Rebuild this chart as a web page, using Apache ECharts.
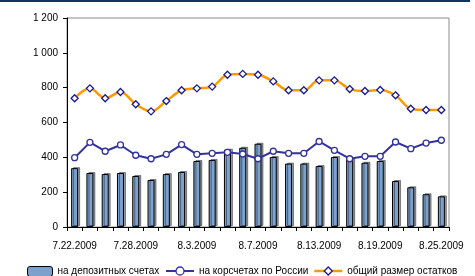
<!DOCTYPE html>
<html>
<head>
<meta charset="utf-8">
<script src="https://cdn.jsdelivr.net/npm/echarts@6/dist/echarts.min.js"></script>
<style>
  html, body { margin: 0; padding: 0; background: #fff; }
  #chart { width: 475px; height: 276px; }
</style>
</head>
<body>
<div id="chart"></div>
<script>
// даты (рабочие дни)
const dates = [
  '7.22.2009', '7.23.2009', '7.24.2009', '7.27.2009', '7.28.2009',
  '7.29.2009', '7.30.2009', '7.31.2009', '8.3.2009', '8.4.2009',
  '8.5.2009', '8.6.2009', '8.7.2009', '8.10.2009', '8.11.2009',
  '8.12.2009', '8.13.2009', '8.14.2009', '8.17.2009', '8.18.2009',
  '8.19.2009', '8.20.2009', '8.21.2009', '8.24.2009', '8.25.2009'
];

// на депозитных счетах
const deposits = [
  338, 310, 304, 310, 293, 270, 304, 316, 379, 385,
  444, 455, 478, 402, 364, 364, 350, 402, 389, 369,
  379, 264, 228, 188, 176
];

// на корсчетах по России
const corrAccounts = [
  398, 486, 435, 471, 412, 392, 417, 473, 417, 423,
  429, 419, 392, 435, 423, 423, 491, 440, 392, 406,
  406, 488, 450, 482, 498
];

// общий размер остатков
const totalBalance = [
  739, 796, 739, 775, 705, 664, 723, 785, 796, 806,
  874, 879, 874, 836, 785, 785, 842, 842, 792, 781,
  787, 756, 679, 672, 672
];

const FONT = "'Liberation Sans', Arial, sans-serif";
const legendText = { fontFamily: FONT, fontSize: 10, color: '#000' };

const chart = echarts.init(document.getElementById('chart'));

chart.setOption({
  animation: false,
  textStyle: { fontFamily: FONT },
  graphic: [
    { type: 'rect', shape: { x: 0, y: 0, width: 470, height: 2 }, style: { fill: '#0b3566' } }
  ],
  grid: {
    left: 67, right: 26, top: 18, bottom: 49,
    show: true, borderColor: '#8c8c8c', borderWidth: 1, backgroundColor: 'transparent'
  },
  legend: [
    {
      left: 22, top: 261, itemWidth: 25, itemHeight: 10, itemGap: 4, textStyle: legendText,
      data: [{
        name: 'на депозитных счетах',
        itemStyle: { color: '#7ca1cc', borderColor: '#000', borderWidth: 1, shadowBlur: 0, shadowOffsetX: 0, shadowOffsetY: 0 }
      }]
    },
    {
      left: 160, top: 261, itemWidth: 28, itemHeight: 10, textStyle: legendText,
      data: [{
        name: 'на корсчетах по России',
        lineStyle: { color: '#333399', width: 2 },
        itemStyle: { color: '#fff', borderColor: '#333399', borderWidth: 1.3 }
      }]
    },
    {
      left: 308, top: 261, itemWidth: 28, itemHeight: 10, textStyle: legendText,
      data: [{
        name: 'общий размер остатков',
        lineStyle: { color: '#ff9900', width: 2.5 },
        itemStyle: { color: '#fff', borderColor: '#1a1a8c', borderWidth: 1.3 }
      }]
    }
  ],
  xAxis: {
    type: 'category',
    data: dates,
    boundaryGap: true,
    axisLine: { lineStyle: { color: '#000', width: 1 } },
    axisTick: { show: true, interval: 0, length: 4, lineStyle: { color: '#000' } },
    axisLabel: { interval: 3, margin: 14, fontSize: 10, color: '#000', fontFamily: FONT },
    splitLine: { show: false }
  },
  yAxis: {
    type: 'value',
    min: 0, max: 1200, interval: 200,
    axisLine: { show: true, lineStyle: { color: '#000', width: 1 } },
    axisTick: { show: true, length: 4, lineStyle: { color: '#000' } },
    axisLabel: {
      margin: 9, fontSize: 10, color: '#000', fontFamily: FONT,
      formatter: v => v >= 1000 ? Math.floor(v / 1000) + ' ' + String(v % 1000).padStart(3, '0') : String(v)
    },
    splitLine: { show: false }
  },
  series: [
    {
      name: 'на депозитных счетах',
      type: 'bar',
      data: deposits,
      barWidth: 7,
      itemStyle: {
        color: '#7ca1cc', borderColor: '#000', borderWidth: 1,
        shadowColor: 'rgba(0,0,0,0.4)', shadowOffsetX: 2, shadowOffsetY: -1, shadowBlur: 0
      },
      z: 2
    },
    {
      name: 'на корсчетах по России',
      type: 'line',
      data: corrAccounts,
      symbol: 'circle',
      symbolSize: 6,
      lineStyle: { color: '#333399', width: 2 },
      itemStyle: { color: '#fff', borderColor: '#333399', borderWidth: 1.3 },
      z: 3
    },
    {
      name: 'общий размер остатков',
      type: 'line',
      data: totalBalance,
      smooth: 0.35,
      symbol: 'diamond',
      symbolSize: 7,
      lineStyle: { color: '#ff9900', width: 2.5 },
      itemStyle: { color: '#fff', borderColor: '#1a1a8c', borderWidth: 1.3 },
      z: 4
    }
  ]
});
</script>
</body>
</html>
